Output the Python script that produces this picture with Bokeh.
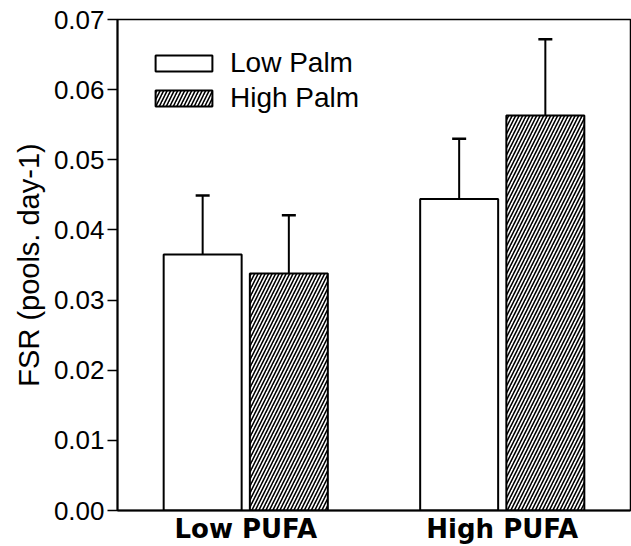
from bokeh.plotting import figure
from bokeh.models import (FactorRange, Range1d, FixedTicker, Whisker, TeeHead,
                          ColumnDataSource, Legend, LegendItem, NumeralTickFormatter)
from bokeh.transform import dodge
from bokeh.embed import file_html
from bokeh.resources import INLINE

# ---- data ----
groups = ["Low PUFA", "High PUFA"]
series = ["Low Palm", "High Palm"]
low_palm = [0.0365, 0.0444]
high_palm = [0.0338, 0.0563]
low_palm_sem = [0.0084, 0.0086]
high_palm_sem = [0.0083, 0.0109]
y_ticks = [0.00, 0.01, 0.02, 0.03, 0.04, 0.05, 0.06, 0.07]
y_label = "FSR (pools. day-1)"

src = ColumnDataSource(dict(
    group=groups,
    lp=low_palm,
    hp=high_palm,
    lp_up=[v + e for v, e in zip(low_palm, low_palm_sem)],
    hp_up=[v + e for v, e in zip(high_palm, high_palm_sem)],
))

FONT = "Liberation Sans"
OFF = 0.168
BW = 0.304

p = figure(width=631, height=546, x_range=FactorRange(*groups, range_padding=0),
           y_range=Range1d(0, 0.07), output_backend="svg", toolbar_location=None,
           min_border_left=117, min_border_right=1, min_border_top=19, min_border_bottom=35)

r_lp = p.vbar(x=dodge("group", -OFF, range=p.x_range), top="lp", width=BW, source=src,
              fill_color="white", line_color="black", line_width=2)
r_hp = p.vbar(x=dodge("group", OFF, range=p.x_range), top="hp", width=BW, source=src,
              fill_color="white", line_color="black", line_width=2,
              hatch_pattern="/", hatch_color="black", hatch_weight=1.6, hatch_scale=7)

for col, up, off in (("lp", "lp_up", -OFF), ("hp", "hp_up", OFF)):
    w = Whisker(source=src, base=dodge("group", off, range=p.x_range), lower=col, upper=up,
                dimension="height", line_color="black", line_width=2,
                lower_head=None,
                upper_head=TeeHead(size=14, line_color="black", line_width=2.5))
    p.add_layout(w)

# axes
p.xgrid.visible = False
p.ygrid.visible = False
p.outline_line_color = "black"
p.outline_line_width = 1.5

ya = p.yaxis[0]
ya.ticker = FixedTicker(ticks=y_ticks)
ya.formatter = NumeralTickFormatter(format="0.00")
ya.minor_tick_line_color = None
ya.major_tick_in = 0
ya.major_tick_out = 10
ya.major_tick_line_width = 1.5
ya.axis_line_width = 2
ya.major_label_standoff = 3
ya.major_label_text_font = FONT
ya.major_label_text_font_size = "26px"
ya.major_label_text_color = "black"
ya.axis_label = y_label
ya.axis_label_text_font = FONT
ya.axis_label_text_font_size = "29px"
ya.axis_label_text_font_style = "normal"
ya.axis_label_text_color = "black"
ya.axis_label_standoff = 6

xa = p.xaxis[0]
xa.axis_line_width = 2
xa.major_tick_line_color = None
xa.minor_tick_line_color = None
xa.major_tick_in = 0
xa.major_tick_out = 0
xa.minor_tick_in = 0
xa.minor_tick_out = 0
xa.major_label_standoff = 3
xa.major_label_text_font = "DejaVu Sans"
xa.major_label_text_font_style = "bold"
xa.major_label_text_font_size = "26px"
xa.major_label_text_color = "black"

legend = Legend(items=[LegendItem(label=series[0], renderers=[r_lp]),
                       LegendItem(label=series[1], renderers=[r_hp])],
                location=(31, 396), padding=0, margin=0, spacing=3,
                glyph_width=71, glyph_height=20, label_height=32, label_standoff=11,
                label_text_font=FONT, label_text_font_size="28px", label_text_color="black",
                border_line_alpha=0, background_fill_alpha=0)
p.add_layout(legend)

open("out.html", "w").write(file_html(p, INLINE))
